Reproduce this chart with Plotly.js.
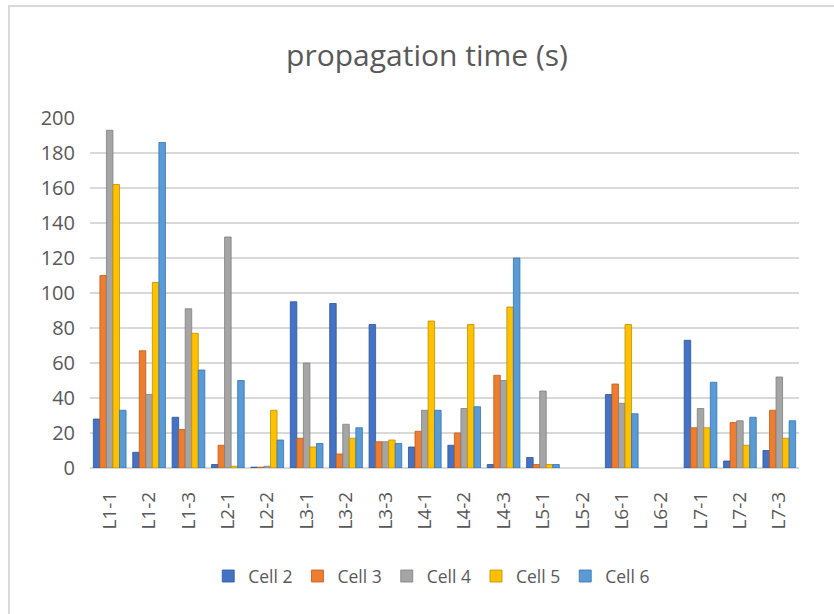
<!DOCTYPE html>
<html>
<head>
<meta charset="utf-8">
<script src="https://cdn.plot.ly/plotly-3.0.1.min.js"></script>
<style>
  html, body { margin: 0; padding: 0; background: #ffffff; }
  #wrap { position: relative; width: 834px; height: 614px; overflow: hidden; }
  #chart { position: absolute; left: 0; top: 0; width: 834px; height: 614px; }
  #frame { position: absolute; left: 8px; top: 5px; width: 840px; height: 620px;
           border-top: 2px solid #d9d9d9; border-left: 2px solid #d9d9d9; pointer-events: none; }
</style>
</head>
<body>
<div id="wrap">
  <div id="chart"></div>
  <div id="frame"></div>
</div>
<script>
// Links / segments on the x axis
const categories = ["L1-1", "L1-2", "L1-3", "L2-1", "L2-2", "L3-1", "L3-2", "L3-3", "L4-1",
                    "L4-2", "L4-3", "L5-1", "L5-2", "L6-1", "L6-2", "L7-1", "L7-2", "L7-3"];

// Propagation time (s) per cell
const cell2 = [28, 9, 29, 2, 0.5, 95, 94, 82, 12, 13, 2, 6, null, 42, null, 73, 4, 10];
const cell3 = [110, 67, 22, 13, 0.5, 17, 8, 15, 21, 20, 53, 2, null, 48, null, 23, 26, 33];
const cell4 = [193, 42, 91, 132, 1, 60, 25, 15, 33, 34, 50, 44, null, 37, null, 34, 27, 52];
const cell5 = [162, 106, 77, 1, 33, 12, 17, 16, 84, 82, 92, 2, null, 82, null, 23, 13, 17];
const cell6 = [33, 186, 56, 50, 16, 14, 23, 14, 33, 35, 120, 2, null, 31, null, 49, 29, 27];

const seriesNames = ["Cell 2", "Cell 3", "Cell 4", "Cell 5", "Cell 6"];
const seriesValues = [cell2, cell3, cell4, cell5, cell6];
const seriesColors = ["#4472C4", "#ED7D31", "#A5A5A5", "#FFC000", "#5B9BD5"];
const edgeColors   = ["#2F5597", "#C55A11", "#7F7F7F", "#BF9000", "#2E75B6"];

const textFont = "Open Sans, sans-serif";
const textColor = "#595959";

const traces = seriesNames.map((name, i) => ({
  type: "bar",
  name: name,
  x: categories,
  y: seriesValues[i],
  marker: { color: seriesColors[i], line: { color: edgeColors[i], width: 0.8 } },
  hoverinfo: "x+y+name"
}));

const layout = {
  width: 834,
  height: 614,
  paper_bgcolor: "rgba(0,0,0,0)",
  plot_bgcolor: "rgba(0,0,0,0)",
  margin: { l: 90, r: 35, t: 118, b: 146 },
  barmode: "group",
  bargap: 0.17,
  bargroupgap: 0,
  title: {
    text: "propagation time (s)",
    font: { family: textFont, size: 30, color: textColor },
    x: 0.512, xref: "container", xanchor: "center",
    y: 0.91, yref: "container", yanchor: "middle"
  },
  xaxis: {
    type: "category",
    tickangle: -90,
    tickfont: { family: textFont, size: 19, color: textColor },
    showgrid: false,
    showline: false,
    ticks: "",
    ticklabelstandoff: 19,
    zeroline: false
  },
  yaxis: {
    range: [0, 200],
    dtick: 20,
    tick0: 0,
    tickfont: { family: textFont, size: 20, color: textColor },
    showgrid: true,
    gridcolor: "#d9d9d9",
    gridwidth: 1.6,
    zeroline: true,
    zerolinecolor: "#d9d9d9",
    zerolinewidth: 1.6,
    showline: false,
    ticks: "",
    ticklabelstandoff: 14
  },
  showlegend: true,
  legend: {
    orientation: "h",
    x: 0.482, xanchor: "center",
    y: -0.309, yanchor: "middle",
    font: { family: textFont, size: 17.5, color: textColor },
    itemwidth: 30,
    traceorder: "normal"
  }
};

Plotly.newPlot("chart", traces, layout, { displayModeBar: false, staticPlot: true });
</script>
</body>
</html>
